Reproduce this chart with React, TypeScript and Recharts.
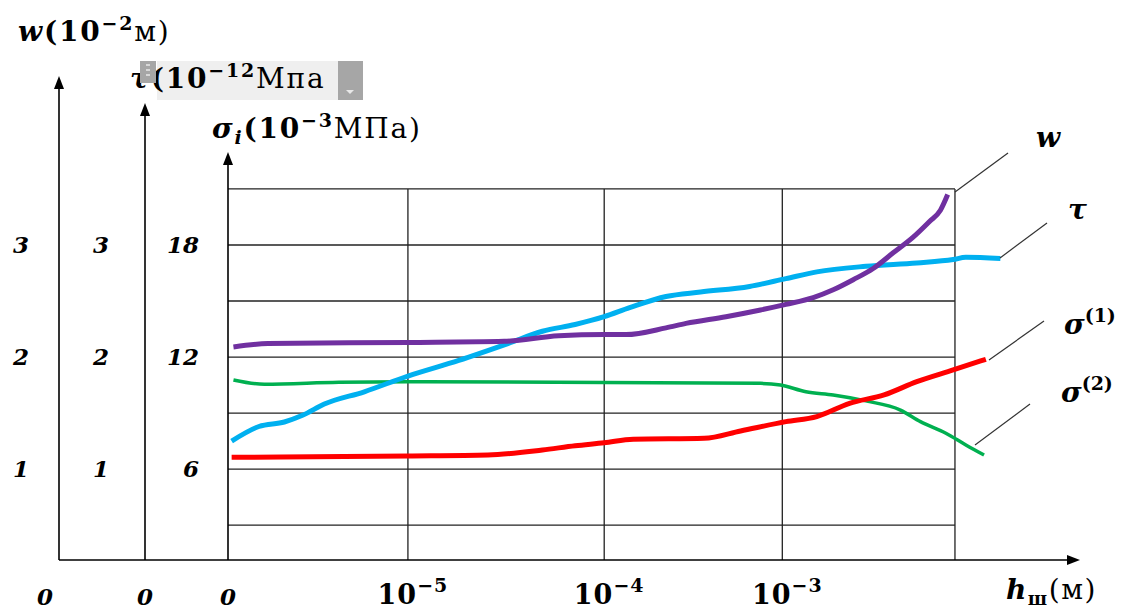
import React from 'react';
import { LineChart, Line, XAxis, YAxis, ReferenceLine } from 'recharts';

// x is measured in "decade steps" of h: 0 is the origin, then 10^-5, 10^-4, 10^-3
const decadeTicks = [0, 0.99, 2.07, 3.05];
const decadeExps = ['', '−5', '−4', '−3'];
const gridEdge = 4;
const gridRows = [3, 6, 9, 12, 15, 18, 21];

const sigmaTicks = [6, 12, 18];
const wTicks = [0, 1, 2, 3];
const tauTicks = [0, 1, 2, 3];

// w (10^-2 m)
const wX = [0.03, 0.22, 0.99, 1.52, 1.82, 2.07, 2.19, 2.41, 2.52, 2.74, 2.93, 3.07, 3.22, 3.33, 3.44, 3.55, 3.66, 3.77, 3.86, 3.92, 3.96];
const wVal = [2.09, 2.12, 2.13, 2.14, 2.19, 2.2, 2.2, 2.26, 2.3, 2.36, 2.42, 2.47, 2.53, 2.6, 2.69, 2.79, 2.93, 3.07, 3.21, 3.31, 3.45];

// tau (10^-12 MPa)
const tauX = [0.02, 0.17, 0.31, 0.41, 0.53, 0.75, 0.99, 1.27, 1.54, 1.73, 1.91, 2.07, 2.21, 2.41, 2.6, 2.87, 3.07, 3.24, 3.51, 3.79, 3.99, 4.06, 4.25];
const tauVal = [1.25, 1.38, 1.42, 1.48, 1.58, 1.69, 1.83, 1.97, 2.12, 2.23, 2.29, 2.36, 2.44, 2.54, 2.58, 2.63, 2.7, 2.76, 2.81, 2.84, 2.87, 2.89, 2.88];

// sigma(1) (10^-3 MPa)
const s1X = [0.02, 0.99, 1.43, 1.73, 1.91, 2.07, 2.23, 2.62, 2.82, 3.07, 3.24, 3.42, 3.61, 3.79, 3.99, 4.17];
const s1Val = [6.63, 6.7, 6.75, 7.02, 7.25, 7.41, 7.6, 7.65, 8.04, 8.54, 8.81, 9.52, 9.97, 10.68, 11.31, 11.88];

// sigma(2) (10^-3 MPa)
const s2X = [0.03, 0.2, 0.61, 0.99, 2.07, 2.93, 3.04, 3.18, 3.33, 3.51, 3.7, 3.81, 3.95, 4.06, 4.16];
const s2Val = [10.77, 10.54, 10.65, 10.68, 10.63, 10.59, 10.5, 10.14, 9.97, 9.65, 9.16, 8.54, 7.92, 7.29, 6.75];

const SIGMA_MIN = 1.13;
const SIGMA_MAX = 27.05;
const X_MAX = 4.688;

const wData = wX.map((u, i) => ({ u, w: wVal[i] }));
const tauData = tauX.map((u, i) => ({ u, tau: tauVal[i] }));
const s1Data = s1X.map((u, i) => ({ u, s: s1Val[i] }));
const s2Data = s2X.map((u, i) => ({ u, s: s2Val[i] }));

const italicNum: React.CSSProperties = {
  fontFamily: "'DejaVu Serif', serif",
  fontStyle: 'italic',
  fontWeight: 'bold',
  fontSize: 23,
  fill: '#000',
};
const mathFont = "'DejaVu Serif', serif";

function SideTick(props: any) {
  const { x, y, payload, zeroDx } = props;
  if (payload.value === 0) {
    return (
      <text x={x + zeroDx} y={y + 16} dy="0.355em" textAnchor="middle" style={italicNum}>
        0
      </text>
    );
  }
  return (
    <text x={x} y={y} dy="0.355em" textAnchor="end" style={italicNum}>
      {payload.value}
    </text>
  );
}

function DecadeTick(props: any) {
  const { x, y, payload } = props;
  const exp = decadeExps[decadeTicks.indexOf(payload.value)];
  if (payload.value === 0) {
    return (
      <text x={x} y={y + 45} textAnchor="middle" style={italicNum}>
        0
      </text>
    );
  }
  return (
    <text x={x + 5} y={y + 44} textAnchor="middle" fontFamily={mathFont} fontWeight="bold" fontSize={27} letterSpacing={1} fill="#000">
      10
      <tspan dy={-12} fontSize={19}>{exp}</tspan>
    </text>
  );
}

const upArrow = (x: number, y: number) => `${x},${y} ${x - 5},${y + 13} ${x + 5},${y + 13}`;

export default function App() {
  const gridStroke = '#222';
  return (
    <div style={{ position: 'absolute', left: 0, top: 0, width: 1127, height: 610, background: '#fff' }}>
      <LineChart width={1127} height={610} margin={{ top: 76, right: 47, bottom: 10, left: 0 }}>
        <XAxis
          type="number"
          dataKey="u"
          domain={[0, X_MAX]}
          allowDataOverflow
          ticks={decadeTicks}
          interval={0}
          height={40}
          axisLine={false}
          tickLine={false}
          tickSize={0}
          tickMargin={0}
          tick={(p: any) => <DecadeTick {...p} />}
        />
        <YAxis
          yAxisId="sigma"
          type="number"
          domain={[SIGMA_MIN, SIGMA_MAX]}
          allowDataOverflow
          ticks={sigmaTicks}
          interval={0}
          width={83}
          axisLine={false}
          tickLine={false}
          tickSize={0}
          tickMargin={29}
          tick={(p: any) => <SideTick {...p} zeroDx={0} />}
        />
        <YAxis
          yAxisId="tau"
          type="number"
          domain={[SIGMA_MIN / 6, SIGMA_MAX / 6]}
          allowDataOverflow
          ticks={tauTicks}
          interval={0}
          width={86}
          axisLine={false}
          tickLine={false}
          tickSize={0}
          tickMargin={36}
          tick={(p: any) => <SideTick {...p} zeroDx={36} />}
        />
        <YAxis
          yAxisId="w"
          type="number"
          domain={[SIGMA_MIN / 6, SIGMA_MAX / 6]}
          allowDataOverflow
          ticks={wTicks}
          interval={0}
          width={59}
          axisLine={false}
          tickLine={false}
          tickSize={0}
          tickMargin={30}
          tick={(p: any) => <SideTick {...p} zeroDx={16} />}
        />

        {gridRows.map((r) => (
          <ReferenceLine
            key={'h' + r}
            yAxisId="sigma"
            ifOverflow="visible"
            segment={[{ x: 0, y: r }, { x: gridEdge, y: r }]}
            stroke={gridStroke}
            strokeWidth={1.3}
          />
        ))}
        {[...decadeTicks.slice(1), gridEdge].map((t) => (
          <ReferenceLine
            key={'v' + t}
            yAxisId="sigma"
            ifOverflow="visible"
            segment={[{ x: t, y: SIGMA_MIN }, { x: t, y: gridRows[gridRows.length - 1] }]}
            stroke={gridStroke}
            strokeWidth={1.3}
          />
        ))}

        <Line data={s2Data} dataKey="s" yAxisId="sigma" type="monotone" stroke="#00B050" strokeWidth={3.5} dot={false} isAnimationActive={false} />
        <Line data={s1Data} dataKey="s" yAxisId="sigma" type="monotone" stroke="#FF0000" strokeWidth={5} dot={false} isAnimationActive={false} />
        <Line data={tauData} dataKey="tau" yAxisId="tau" type="monotone" stroke="#00B0F0" strokeWidth={5} dot={false} isAnimationActive={false} />
        <Line data={wData} dataKey="w" yAxisId="w" type="monotone" stroke="#7030A0" strokeWidth={5} dot={false} isAnimationActive={false} />
      </LineChart>

      <svg width={1127} height={610} style={{ position: 'absolute', left: 0, top: 0, pointerEvents: 'none' }}>
        {/* axes with arrows */}
        <g stroke="#000" strokeWidth={1.6}>
          <line x1={59} y1={86} x2={59} y2={560} />
          <line x1={145} y1={113} x2={145} y2={560} />
          <line x1={228} y1={162} x2={228} y2={560} />
          <line x1={59} y1={560} x2={1070} y2={560} />
        </g>
        <g fill="#000">
          <polygon points={upArrow(59, 76)} />
          <polygon points={upArrow(145, 103)} />
          <polygon points={upArrow(228, 152)} />
          <polygon points="1080,560 1067,555 1067,565" />
        </g>

        {/* leader lines */}
        <g stroke="#333" strokeWidth={1.2}>
          <line x1={955} y1={192} x2={1008} y2={153} />
          <line x1={1000} y1={258} x2={1047} y2={223} />
          <line x1={989} y1={360} x2={1044} y2={321} />
          <line x1={975} y1={445} x2={1030} y2={404} />
        </g>

        {/* axis titles */}
        <text x={18} y={41} fontFamily={mathFont} fontSize={28} letterSpacing={1.8} fontWeight="bold" fill="#000">
          <tspan fontStyle="italic">w</tspan>(10
          <tspan dy={-11} fontSize={19}>−2</tspan>
          <tspan dy={11} fontWeight="normal">м)</tspan>
        </text>

        <rect x={157} y={61} width={181} height={39} fill="#efefef" />
        <text x={130} y={88} fontFamily={mathFont} fontSize={28} letterSpacing={1.8} fontWeight="bold" fill="#000">
          <tspan fontStyle="italic">τ</tspan>(10
          <tspan dy={-11} fontSize={19}>−12</tspan>
          <tspan dy={11} fontWeight="normal">Мпа</tspan>
        </text>
        <rect x={140} y={61} width={16} height={22} fill="#a6a6a6" />
        <g fill="#d8d8d8">
          <rect x={146} y={64} width={4} height={2} />
          <rect x={146} y={69} width={4} height={2} />
          <rect x={146} y={74} width={4} height={2} />
        </g>
        <rect x={338} y={61} width={25} height={39} fill="#a6a6a6" />
        <polygon points="346,90 354,90 350,94" fill="#e8e8e8" />

        <text x={212} y={138} fontFamily={mathFont} fontSize={28} letterSpacing={1.8} fontWeight="bold" fill="#000">
          <tspan fontStyle="italic">σ</tspan>
          <tspan dy={6} fontSize={19} fontStyle="italic">i</tspan>
          <tspan dy={-6}>(10</tspan>
          <tspan dy={-11} fontSize={19}>−3</tspan>
          <tspan dy={11} fontWeight="normal">МПа)</tspan>
        </text>

        <text x={1006} y={599} fontFamily={mathFont} fontSize={28} letterSpacing={1.5} fontWeight="bold" fill="#000">
          <tspan fontStyle="italic">h</tspan>
          <tspan dy={6} fontSize={18}>ш</tspan>
          <tspan dy={-6} fontWeight="normal">(м)</tspan>
        </text>

        {/* series labels */}
        <g fontFamily={mathFont} fontWeight="bold" fontStyle="italic" fontSize={28} fill="#000">
          <text x={1036} y={147}>w</text>
          <text x={1068} y={219}>τ</text>
          <text x={1064} y={334}>
            σ<tspan dy={-12} fontSize={19} fontStyle="normal">(1)</tspan>
          </text>
          <text x={1061} y={402}>
            σ<tspan dy={-12} fontSize={19} fontStyle="normal">(2)</tspan>
          </text>
        </g>
      </svg>
    </div>
  );
}
